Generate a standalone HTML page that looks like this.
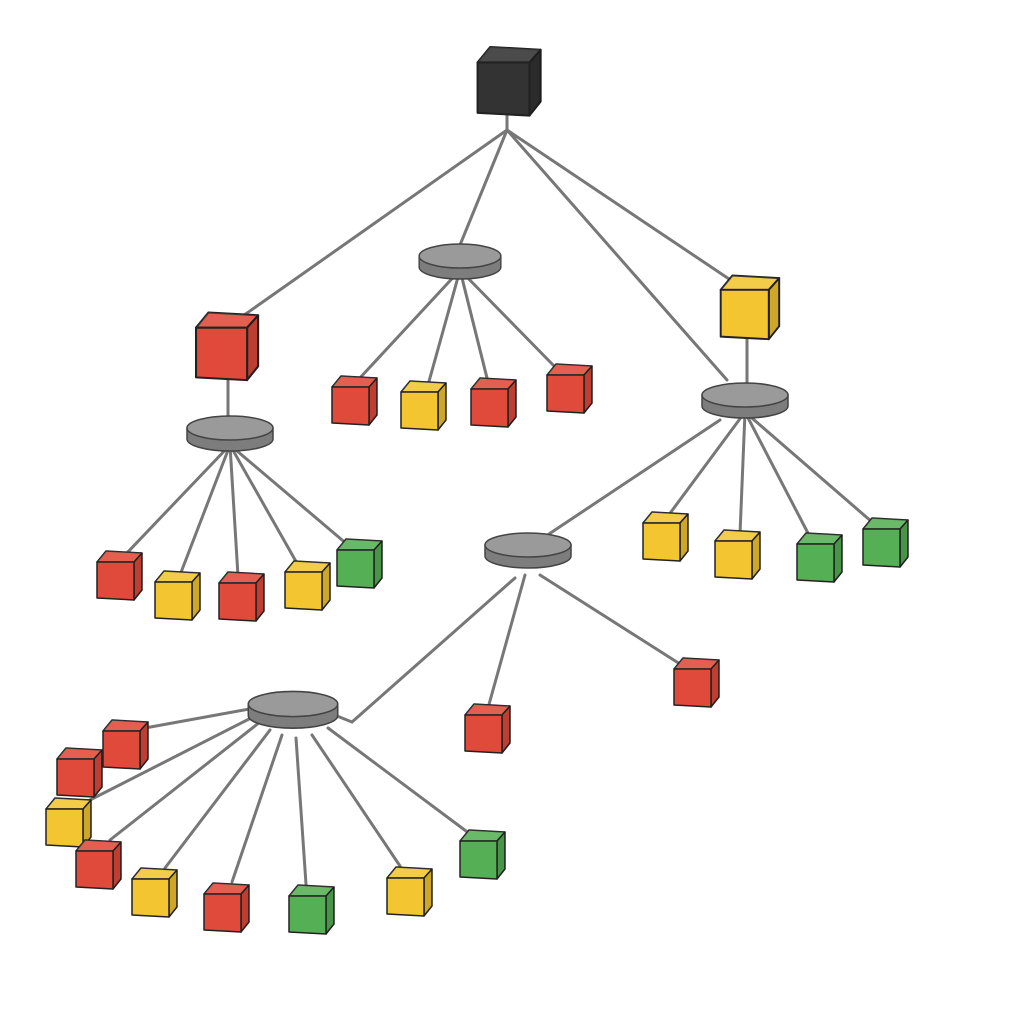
<!DOCTYPE html>
<html><head><meta charset="utf-8"><style>html,body{margin:0;background:#fff}svg{display:block}</style></head>
<body>
<svg width="1024" height="1024" viewBox="0 0 1024 1024" xmlns="http://www.w3.org/2000/svg">
<defs>
<g id="cube" stroke="#222" stroke-width="1.5" stroke-linejoin="round">
<path d="M-21,-14 L-12,-25 L24,-23 L16,-14 Z" fill="currentColor"/>
<path d="M-21,-14 L-12,-25 L24,-23 L16,-14 Z" fill="#fff" opacity="0.12" stroke="none"/>
<path d="M16,-14 L24,-23 L24,14 L16,24 Z" fill="currentColor"/>
<path d="M16,-14 L24,-23 L24,14 L16,24 Z" fill="#000" opacity="0.15" stroke="none"/>
<path d="M-21,-14 L16,-14 L16,24 L-21,22 Z" fill="currentColor"/>
</g>
<g id="hub" stroke="#444" stroke-width="1.5">
<path d="M-43,0 L-43,11 A43,12 0 0 0 43,11 L43,0 Z" fill="#7d7d7d"/>
<ellipse cx="0" cy="0" rx="43" ry="12" fill="#9a9a9a"/>
</g>
</defs>
<g stroke="#777" stroke-width="3" fill="none" stroke-linecap="round">
<line x1="507" y1="110" x2="507" y2="130"/>
<line x1="507" y1="130" x2="240" y2="318"/>
<line x1="507" y1="130" x2="460" y2="245"/>
<line x1="507" y1="130" x2="738" y2="285"/>
<line x1="507" y1="130" x2="727" y2="380"/>
<line x1="228" y1="378" x2="228" y2="420"/>
<line x1="747" y1="338" x2="747" y2="385"/>
<line x1="720" y1="420" x2="540" y2="540"/>
<polyline points="515,578 352,722 337,716"/>
<line x1="460" y1="270" x2="358" y2="380"/><line x1="460" y1="270" x2="428" y2="385"/>
<line x1="460" y1="270" x2="488" y2="382"/><line x1="460" y1="270" x2="558" y2="370"/>
<line x1="230" y1="445" x2="125" y2="555"/><line x1="230" y1="445" x2="180" y2="575"/>
<line x1="230" y1="445" x2="238" y2="576"/><line x1="230" y1="445" x2="298" y2="565"/>
<line x1="230" y1="445" x2="348" y2="545"/>
<line x1="745" y1="412" x2="668" y2="516"/><line x1="745" y1="412" x2="740" y2="534"/>
<line x1="745" y1="412" x2="810" y2="537"/><line x1="745" y1="412" x2="872" y2="522"/>
<line x1="525" y1="575" x2="488" y2="708"/><line x1="540" y1="575" x2="680" y2="664"/>
<line x1="255" y1="708" x2="145" y2="728"/><line x1="255" y1="716" x2="90" y2="800"/>
<line x1="260" y1="722" x2="110" y2="840"/><line x1="270" y1="730" x2="165" y2="868"/>
<line x1="282" y1="735" x2="232" y2="882"/><line x1="296" y1="738" x2="306" y2="884"/>
<line x1="312" y1="735" x2="400" y2="866"/><line x1="328" y1="728" x2="470" y2="834"/>
</g>
<use href="#hub" transform="translate(460,256) scale(0.95,1)"/>
<use href="#hub" transform="translate(230,428)"/>
<use href="#hub" transform="translate(745,395)"/>
<use href="#hub" transform="translate(528,545)"/>
<use href="#hub" transform="translate(293,704) scale(1.04,1.05)"/>
<g>
<use href="#cube" style="color:#333" transform="translate(507,82) scale(1.4)"/>
<use href="#cube" style="color:#e04a3a" transform="translate(225,347) scale(1.38)"/>
<use href="#cube" style="color:#f2c531" transform="translate(748,308) scale(1.3)"/>
<use href="#cube" style="color:#e04a3a" transform="translate(353,401)"/>
<use href="#cube" style="color:#f2c531" transform="translate(422,406)"/>
<use href="#cube" style="color:#e04a3a" transform="translate(492,403)"/>
<use href="#cube" style="color:#e04a3a" transform="translate(568,389)"/>
<use href="#cube" style="color:#e04a3a" transform="translate(118,576)"/>
<use href="#cube" style="color:#f2c531" transform="translate(176,596)"/>
<use href="#cube" style="color:#e04a3a" transform="translate(240,597)"/>
<use href="#cube" style="color:#f2c531" transform="translate(306,586)"/>
<use href="#cube" style="color:#55b055" transform="translate(358,564)"/>
<use href="#cube" style="color:#f2c531" transform="translate(664,537)"/>
<use href="#cube" style="color:#f2c531" transform="translate(736,555)"/>
<use href="#cube" style="color:#55b055" transform="translate(818,558)"/>
<use href="#cube" style="color:#55b055" transform="translate(884,543)"/>
<use href="#cube" style="color:#e04a3a" transform="translate(486,729)"/>
<use href="#cube" style="color:#e04a3a" transform="translate(695,683)"/>
<use href="#cube" style="color:#e04a3a" transform="translate(124,745)"/>
<use href="#cube" style="color:#e04a3a" transform="translate(78,773)"/>
<use href="#cube" style="color:#f2c531" transform="translate(67,823)"/>
<use href="#cube" style="color:#e04a3a" transform="translate(97,865)"/>
<use href="#cube" style="color:#f2c531" transform="translate(153,893)"/>
<use href="#cube" style="color:#e04a3a" transform="translate(225,908)"/>
<use href="#cube" style="color:#55b055" transform="translate(310,910)"/>
<use href="#cube" style="color:#f2c531" transform="translate(408,892)"/>
<use href="#cube" style="color:#55b055" transform="translate(481,855)"/>
</g>
</svg>
</body></html>
